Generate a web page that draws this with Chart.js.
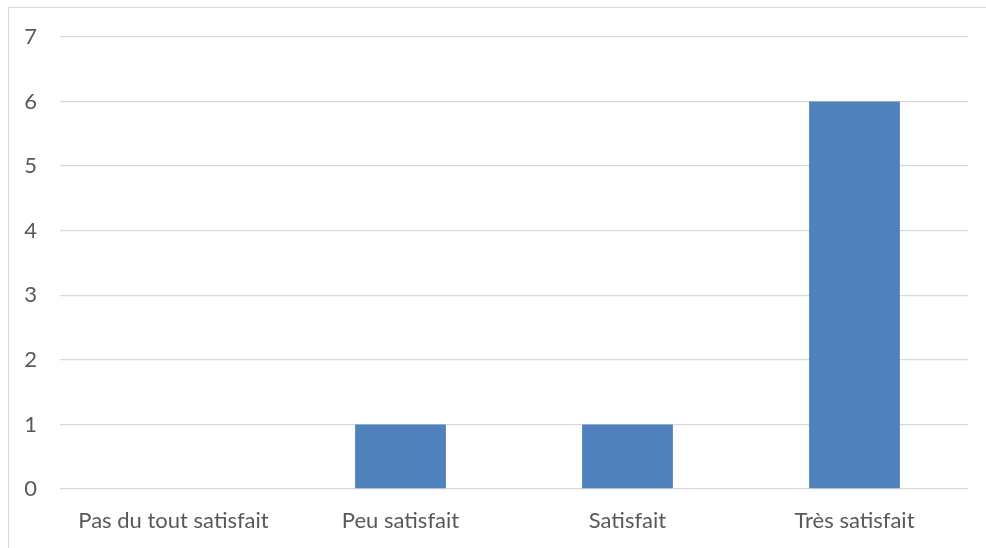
<!DOCTYPE html>
<html>
<head>
<meta charset="utf-8">
<script src="https://cdn.jsdelivr.net/npm/chart.js@4"></script>
<style>
  html, body { margin: 0; padding: 0; background: #fff; }
  #wrap { position: relative; width: 986px; height: 548px; overflow: hidden; }
  #frame { position: absolute; left: 8px; top: 7px; width: 1000px; height: 600px; border: 1px solid #d9d9d9; box-sizing: border-box; }
  canvas { position: absolute; left: 0; top: 0; }
</style>
</head>
<body>
<div id="wrap">
  <div id="frame"></div>
  <canvas id="myChart" width="986" height="548"></canvas>
</div>
<script>
const labels = [
    'Pas du tout satisfait',
    'Peu satisfait',
    'Satisfait',
    'Très satisfait',
];
const values = [0, 1, 1, 6];
const yTicks = [0, 1, 2, 3, 4, 5, 6, 7];

const data = {
    labels: labels,
    datasets: [{
        label: 'Satisfaction',
        backgroundColor: '#4f81bd',
        data: values,
        barPercentage: 0.4,
        categoryPercentage: 1,
    }]
};

const font = { family: 'Lato', size: 22 };

const config = {
    type: 'bar',
    data: data,
    options: {
        responsive: false,
        animation: false,
        layout: { padding: { top: 37, right: 18, left: 0, bottom: 0 } },
        plugins: { legend: { display: false }, tooltip: { enabled: false } },
        scales: {
            x: {
                grid: { display: false, drawTicks: false },
                border: { display: false },
                ticks: { color: '#595959', font: font, padding: 19 },
                afterFit: function (s) { s.height = 59; }
            },
            y: {
                min: 0,
                max: 7,
                grid: { color: '#d9d9d9', lineWidth: 1.3, drawTicks: false },
                border: { display: false },
                ticks: { stepSize: 1, color: '#595959', font: font, padding: 23,
                    callback: function (v) { return yTicks.includes(v) ? v : ''; } },
                afterFit: function (s) { s.width = 60; }
            }
        }
    }
};

const myChart = new Chart(document.getElementById('myChart'), config);
</script>
</body>
</html>
